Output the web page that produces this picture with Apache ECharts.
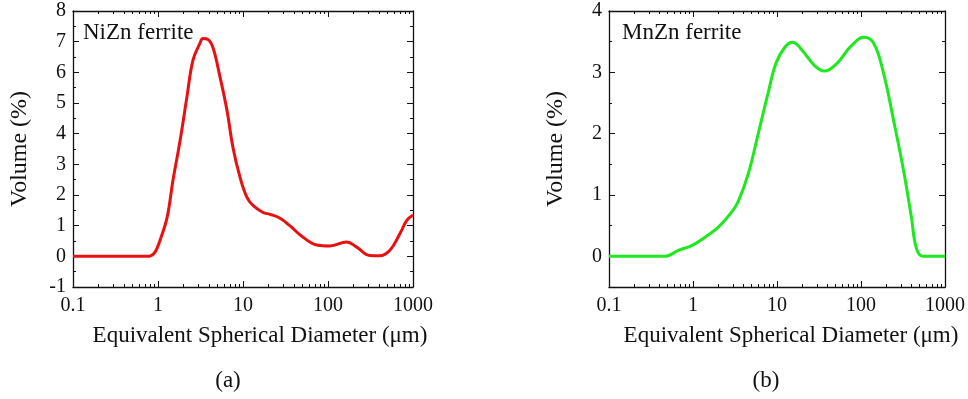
<!DOCTYPE html>
<html>
<head>
<meta charset="utf-8">
<script src="https://cdn.jsdelivr.net/npm/echarts@6/dist/echarts.min.js"></script>
<style>
  html, body { margin: 0; padding: 0; background: #fff; }
  #chart { width: 968px; height: 399px; }
</style>
</head>
<body>
<div id="chart"></div>
<script>
// NiZn ferrite particle size distribution (panel a)
const niznDiameter = [0.1, 0.5, 0.76, 0.805, 0.92, 1.055, 1.28, 1.5, 1.82, 2.19, 2.58, 3.12, 3.38, 3.87, 4.44, 5.36, 6.48, 7.62, 9.22, 11.1, 13.1, 17.2, 20.8, 27, 35.5, 51, 74, 105, 166, 218, 311, 405, 535, 705, 845, 1000];
const niznVolume = [0, 0, 0, 0.01, 0.13, 0.52, 1.27, 2.48, 3.78, 5.2, 6.4, 6.95, 7.1, 7.07, 6.8, 5.85, 4.76, 3.55, 2.58, 1.93, 1.66, 1.43, 1.37, 1.25, 1.0, 0.62, 0.37, 0.34, 0.47, 0.3, 0.03, 0.02, 0.2, 0.75, 1.17, 1.35];

// MnZn ferrite particle size distribution (panel b)
const mnznDiameter = [0.1, 0.3, 0.46, 0.68, 0.98, 1.42, 2.02, 2.88, 3.47, 4.56, 5.98, 7.83, 9.73, 12.4, 15.4, 19.1, 28, 36.7, 52, 74, 108, 142, 186, 244, 321, 398, 457, 550, 700, 1000];
const mnznVolume = [0, 0, 0, 0.1, 0.18, 0.32, 0.48, 0.72, 0.9, 1.35, 2.0, 2.66, 3.15, 3.41, 3.49, 3.39, 3.11, 3.02, 3.15, 3.41, 3.57, 3.47, 2.98, 2.22, 1.4, 0.64, 0.13, 0, 0, 0];

const xMajorTicks = [0.1, 1, 10, 100, 1000];
const xMinorTicks = [0.2, 0.3, 0.4, 0.5, 0.6, 0.7, 0.8, 0.9,
  2, 3, 4, 5, 6, 7, 8, 9,
  20, 30, 40, 50, 60, 70, 80, 90,
  200, 300, 400, 500, 600, 700, 800, 900];
const niznYTicks = [-1, 0, 1, 2, 3, 4, 5, 6, 7, 8];
const niznYMinor = [-0.5, 0.5, 1.5, 2.5, 3.5, 4.5, 5.5, 6.5, 7.5];
const mnznYTicks = [0, 1, 2, 3, 4];
const mnznYMinor = [-0.5, 0.5, 1.5, 2.5, 3.5];

const FONT = 'Liberation Serif';
const INK = '#111';
const X_NAME = 'Equivalent Spherical Diameter (\u03bcm)';
const Y_NAME = 'Volume (%)';

const chart = echarts.init(document.getElementById('chart'));

function xAxes(gridIndex, nameShift) {
  const line = { show: true, onZero: false, lineStyle: { color: INK, width: 1.3 } };
  const base = {
    type: 'log', logBase: 10, min: 0.1, max: 1000, gridIndex,
    splitLine: { show: false },
    axisLine: line,
  };
  const hidden = { ...line, show: false };
  return [
    {
      ...base, position: 'bottom',
      name: X_NAME, nameLocation: 'middle', nameGap: 37,
      nameTextStyle: { fontFamily: FONT, fontSize: 23, color: INK, padding: [0, 0, 0, nameShift * 2] },
      axisTick: { inside: true, length: 6, customValues: xMajorTicks, lineStyle: { color: INK } },
      axisLabel: { customValues: xMajorTicks, margin: 9, fontFamily: FONT, fontSize: 20, color: INK, formatter: (v) => String(v) },
    },
    {
      ...base, position: 'top',
      axisTick: { inside: true, length: 6, customValues: xMajorTicks, lineStyle: { color: INK } },
      axisLabel: { show: false },
    },
    {
      ...base, position: 'bottom', axisLine: hidden,
      axisTick: { inside: true, length: 3, customValues: xMinorTicks, lineStyle: { color: INK } },
      axisLabel: { show: false },
    },
    {
      ...base, position: 'top', axisLine: hidden,
      axisTick: { inside: true, length: 3, customValues: xMinorTicks, lineStyle: { color: INK } },
      axisLabel: { show: false },
    },
  ];
}

function yAxes(gridIndex, min, max, major, minor) {
  const line = { show: true, onZero: false, lineStyle: { color: INK, width: 1.3 } };
  const base = {
    type: 'value', min, max, gridIndex,
    splitLine: { show: false },
    axisLine: line,
  };
  const hidden = { ...line, show: false };
  return [
    {
      ...base, position: 'left',
      name: Y_NAME, nameLocation: 'middle', nameGap: 41, nameRotate: 90,
      nameTextStyle: { fontFamily: FONT, fontSize: 24, color: INK },
      axisTick: { inside: true, length: 6, customValues: major, lineStyle: { color: INK } },
      axisLabel: { customValues: major, margin: 7, fontFamily: FONT, fontSize: 20, color: INK },
    },
    {
      ...base, position: 'right',
      axisTick: { inside: true, length: 6, customValues: major, lineStyle: { color: INK } },
      axisLabel: { show: false },
    },
    {
      ...base, position: 'left', axisLine: hidden,
      axisTick: { inside: true, length: 3, customValues: minor, lineStyle: { color: INK } },
      axisLabel: { show: false },
    },
    {
      ...base, position: 'right', axisLine: hidden,
      axisTick: { inside: true, length: 3, customValues: minor, lineStyle: { color: INK } },
      axisLabel: { show: false },
    },
  ];
}

function pairs(xs, ys) {
  return xs.map((x, i) => [x, ys[i]]);
}

function panelLabel(text, x, y, size) {
  return {
    type: 'text', x, y,
    style: { text, fontFamily: FONT, fontSize: size, fill: INK, textAlign: 'center', textVerticalAlign: 'middle' },
  };
}

chart.setOption({
  animation: false,
  grid: [
    { left: 73, top: 11, width: 340, height: 276 },
    { left: 609, top: 11, width: 340, height: 276 },
  ],
  xAxis: [...xAxes(0, 17), ...xAxes(1, 14)],
  yAxis: [...yAxes(0, -1, 8, niznYTicks, niznYMinor), ...yAxes(1, -0.5, 4, mnznYTicks, mnznYMinor)],
  series: [
    {
      name: 'NiZn ferrite', type: 'line', xAxisIndex: 0, yAxisIndex: 0,
      data: pairs(niznDiameter, niznVolume), smooth: 0.4, showSymbol: false,
      lineStyle: { color: '#e81010', width: 3 },
    },
    {
      name: 'MnZn ferrite', type: 'line', xAxisIndex: 4, yAxisIndex: 4,
      data: pairs(mnznDiameter, mnznVolume), smooth: 0.4, showSymbol: false,
      lineStyle: { color: '#1ee81e', width: 3 },
    },
  ],
  graphic: [
    { type: 'text', x: 83, y: 33, style: { text: 'NiZn ferrite', fontFamily: FONT, fontSize: 23, fill: INK, textVerticalAlign: 'middle' } },
    { type: 'text', x: 622, y: 33, style: { text: 'MnZn ferrite', fontFamily: FONT, fontSize: 23, fill: INK, textVerticalAlign: 'middle' } },
    panelLabel('(a)', 228, 381, 23),
    panelLabel('(b)', 766, 381, 23),
  ],
});
</script>
</body>
</html>
